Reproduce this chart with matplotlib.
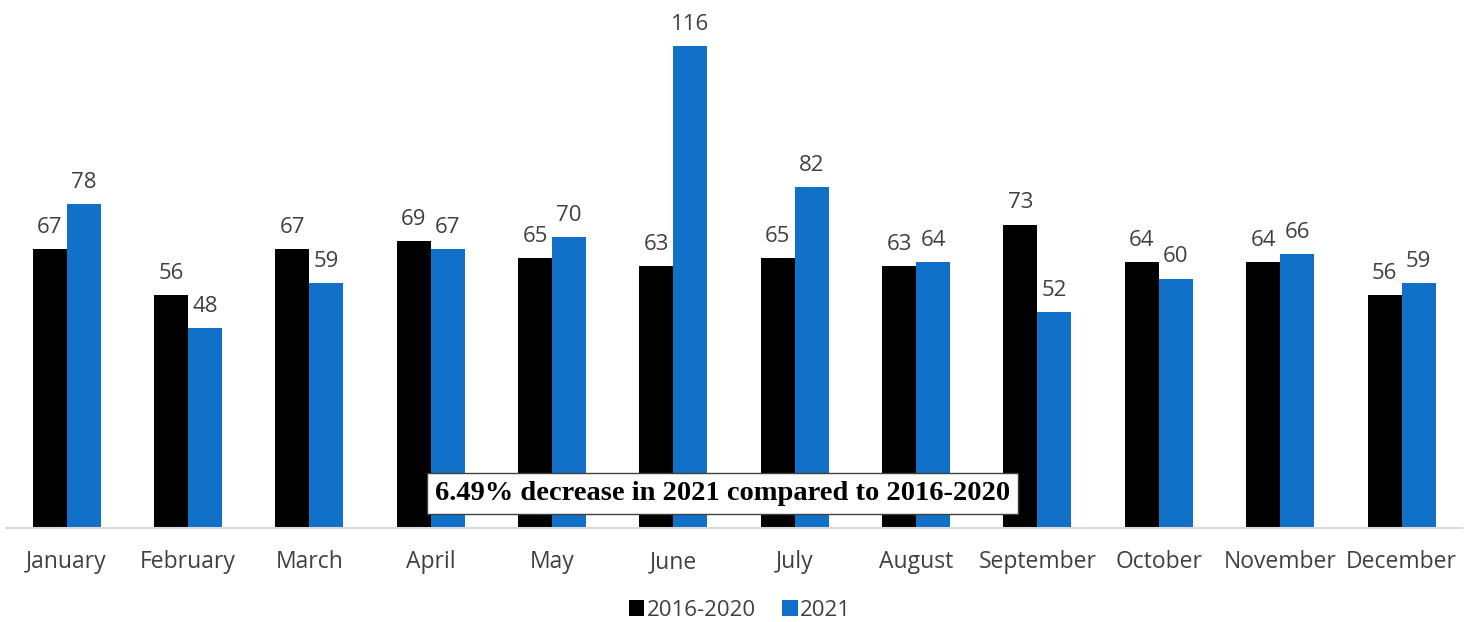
import matplotlib.pyplot as plt
import numpy as np

months = ['January', 'February', 'March', 'April', 'May', 'June', 'July',
          'August', 'September', 'October', 'November', 'December']
avg_2016_2020 = [67, 56, 67, 69, 65, 63, 65, 63, 73, 64, 64, 56]
vals_2021 = [78, 48, 59, 67, 70, 116, 82, 64, 52, 60, 66, 59]
series_names = ['2016-2020', '2021']
note = '6.49% decrease in 2021 compared to 2016-2020'

plt.rcParams['font.family'] = ['Open Sans', 'DejaVu Sans']
text_color = '#404040'
blue = '#1170C8'

fig = plt.figure(figsize=(14.74, 6.22), dpi=100)
ax = fig.add_axes([0.004, 0.151, 0.988, 0.849])

x = np.arange(len(months))
w = 0.28
b1 = ax.bar(x - w / 2, avg_2016_2020, w, color='black', label=series_names[0])
b2 = ax.bar(x + w / 2, vals_2021, w, color=blue, label=series_names[1])

for bars in (b1, b2):
    ax.bar_label(bars, padding=8, fontsize=16, color=text_color)

ax.set_xlim(-0.5, len(months) - 0.5)
ax.set_ylim(0, 127)
ax.set_xticks(x)
ax.set_xticklabels(months, fontsize=16.5, color=text_color)
ax.tick_params(axis='x', length=0, pad=16)
ax.set_yticks([])
for s in ['top', 'right', 'left']:
    ax.spines[s].set_visible(False)
ax.spines['bottom'].set_color('#d9d9d9')
ax.spines['bottom'].set_linewidth(1.5)

ax.text(0.492, 0.065, note, transform=ax.transAxes, ha='center', va='center',
        fontsize=20.5, fontweight='bold', family='Liberation Serif', color='black',
        bbox=dict(boxstyle='square,pad=0.28', facecolor='white', edgecolor='#404040', linewidth=1))

leg = fig.legend(loc='lower center', bbox_to_anchor=(0.502, -0.03), ncol=2, frameon=False,
                 fontsize=16, handlelength=0.7, handleheight=0.7, handletextpad=0.1,
                 columnspacing=1.2)
for t in leg.get_texts():
    t.set_color(text_color)

fig.savefig('out.png', dpi=100)
